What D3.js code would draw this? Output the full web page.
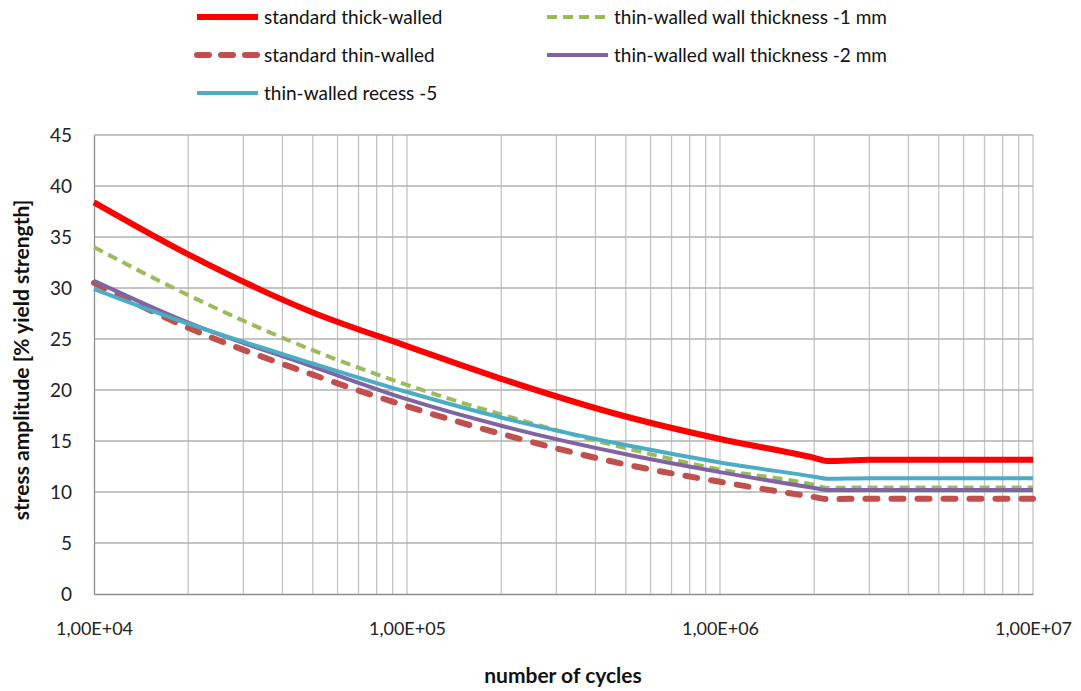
<!DOCTYPE html>
<html><head><meta charset="utf-8">
<script src="https://cdn.jsdelivr.net/npm/d3@7"></script>
<style>body{margin:0;background:#fff;} svg{display:block;font-family:Lato,"Open Sans",sans-serif;}</style>
</head><body>
<svg id="c" width="1081" height="691"></svg>
<script>
const cycles = [1e4, 2e4, 5e4, 1e5, 2e5, 5e5, 1e6, 2e6, 2.2e6, 3e6, 1e7];
const standardThick = [38.4, 33.3, 27.6, 24.3, 21.1, 17.4, 15.2, 13.35, 13.05, 13.15, 13.15];
const standardThin  = [30.5, 26.1, 21.5, 18.4, 15.7, 12.7, 11.0, 9.5, 9.3, 9.35, 9.35];
const thinMinus1    = [34.0, 29.3, 23.9, 20.5, 17.6, 14.3, 12.2, 10.7, 10.4, 10.45, 10.45];
const thinMinus2    = [30.7, 26.6, 22.3, 19.1, 16.5, 13.7, 11.95, 10.4, 10.2, 10.2, 10.2];
const thinRecess5   = [29.9, 26.5, 22.6, 19.8, 17.3, 14.6, 12.9, 11.5, 11.3, 11.35, 11.35];
const yTicks = [0, 5, 10, 15, 20, 25, 30, 35, 40, 45];
const xTickLabels = ["1,00E+04", "1,00E+05", "1,00E+06", "1,00E+07"];
const xTickValues = [1e4, 1e5, 1e6, 1e7];

const series = [
  {name: "standard thick-walled", values: standardThick, color: "#FF0000", width: 6, dash: null, cap: "butt"},
  {name: "standard thin-walled", values: standardThin, color: "#C0504D", width: 6, dash: "12,14", cap: "round"},
  {name: "thin-walled recess -5", values: thinRecess5, color: "#4BACC6", width: 4, dash: null, cap: "butt"},
  {name: "thin-walled wall thickness -1 mm", values: thinMinus1, color: "#9BBB59", width: 4, dash: "10,6", cap: "butt"},
  {name: "thin-walled wall thickness -2 mm", values: thinMinus2, color: "#8064A2", width: 4, dash: null, cap: "butt"}
];

const svg = d3.select("#c");
const L = 94, R = 1033, T = 135, B = 594;
const x = d3.scaleLog().domain([1e4, 1e7]).range([L, R]);
const y = d3.scaleLinear().domain([0, 45]).range([B, T]);

// vertical grid (minor + major)
const vgrid = [];
for (let d = 1e4; d < 1e7; d *= 10) for (let k = 1; k <= 9; k++) vgrid.push(d * k);
vgrid.push(1e7);
svg.append("g").selectAll("line").data(vgrid.filter(v => v > 1e4)).join("line")
  .attr("x1", d => x(d)).attr("x2", d => x(d)).attr("y1", T).attr("y2", B)
  .attr("stroke", "#c4c4c4").attr("stroke-width", 1.3);
// horizontal grid
svg.append("g").selectAll("line").data(yTicks.filter(v => v > 0)).join("line")
  .attr("x1", L).attr("x2", R).attr("y1", d => y(d)).attr("y2", d => y(d))
  .attr("stroke", "#b0b0b0").attr("stroke-width", 1.3);

// axes
const yAxis = d3.axisLeft(y).tickValues(yTicks).tickSize(0).tickPadding(22);
const gy = svg.append("g").attr("transform", `translate(${L},0)`).call(yAxis);
gy.select(".domain").attr("stroke", "#8c8c8c").attr("stroke-width", 1.3);
gy.selectAll("text").attr("font-size", 19).attr("fill", "#222").attr("font-family", "Lato");

const xAxis = d3.axisBottom(x).tickValues(xTickValues).tickSize(0).tickPadding(28)
  .tickFormat((d, i) => xTickLabels[i]);
const gx = svg.append("g").attr("transform", `translate(0,${B})`).call(xAxis);
gx.select(".domain").attr("stroke", "#8c8c8c").attr("stroke-width", 1.3);
gx.selectAll("text").attr("font-size", 18).attr("fill", "#222").attr("font-family", "Lato");

// lines
const line = d3.line().x((d, i) => x(cycles[i])).y(d => y(d)).curve(d3.curveMonotoneX);
const drawOrder = [series[3], series[1], series[4], series[2], series[0]];
svg.append("g").selectAll("path").data(drawOrder).join("path")
  .attr("d", d => line(d.values))
  .attr("fill", "none").attr("stroke", d => d.color).attr("stroke-width", d => d.width)
  .attr("stroke-dasharray", d => d.dash).attr("stroke-linecap", d => d.cap);

// axis titles
svg.append("text").attr("x", 563).attr("y", 683).attr("text-anchor", "middle")
  .attr("font-size", 21).attr("font-weight", "bold").attr("fill", "#111").text("number of cycles");
svg.append("text").attr("transform", `translate(29,360) rotate(-90)`).attr("text-anchor", "middle")
  .attr("font-size", 21).attr("font-weight", "bold").attr("fill", "#111").text("stress amplitude [% yield strength]");

// legend
const legendPos = [
  {s: series[0], x: 197, y: 17},
  {s: series[3], x: 547, y: 17},
  {s: series[1], x: 197, y: 55},
  {s: series[4], x: 547, y: 55},
  {s: series[2], x: 197, y: 93}
];
const lg = svg.append("g").selectAll("g").data(legendPos).join("g")
  .attr("transform", d => `translate(${d.x},${d.y})`);
lg.append("line").attr("x1", 0).attr("x2", 61).attr("y1", 0).attr("y2", 0)
  .attr("stroke", d => d.s.color).attr("stroke-width", d => d.s.width)
  .attr("stroke-dasharray", d => d.s.dash ? (d.s.cap === "round" ? "12,12" : "10,6") : null)
  .attr("stroke-linecap", d => d.s.cap === "round" ? "round" : "butt");
lg.append("text").attr("x", 67).attr("y", 0).attr("dy", "0.35em")
  .attr("font-size", 19).attr("fill", "#111").text(d => d.s.name);
</script>
</body></html>
